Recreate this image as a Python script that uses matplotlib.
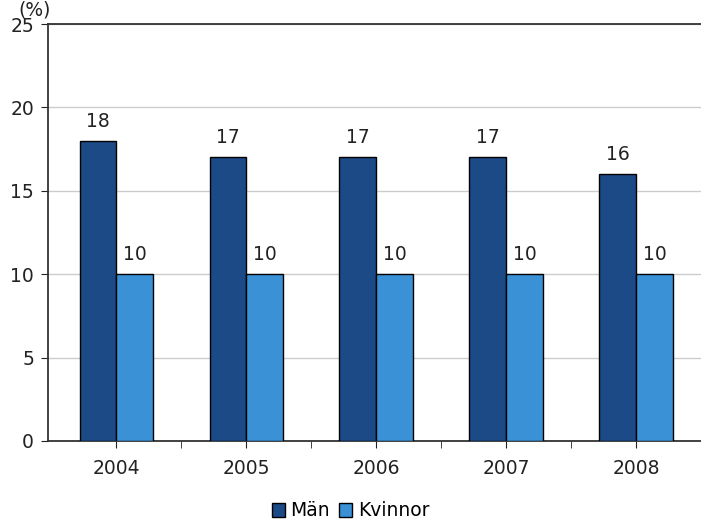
import matplotlib.pyplot as plt
import numpy as np

plt.rcParams['font.family'] = ['DejaVu Sans']

years = ["2004", "2005", "2006", "2007", "2008"]
man = [18, 17, 17, 17, 16]
kvinnor = [10, 10, 10, 10, 10]

dark = "#1B4A87"
light = "#3A91D6"
fs = 13.5

fig = plt.figure(figsize=(7.01, 5.21), dpi=100)
ax = fig.add_axes([48 / 701, 1 - 441 / 521, 653 / 701, 417 / 521])

x = np.arange(len(years))
w = 0.283
b1 = ax.bar(x - w / 2, man, w, color=dark, edgecolor="black", linewidth=1, label="Män", zorder=3)
b2 = ax.bar(x + w / 2, kvinnor, w, color=light, edgecolor="black", linewidth=1, label="Kvinnor", zorder=3)

for bars in (b1, b2):
    for r in bars:
        ax.text(r.get_x() + r.get_width() / 2, r.get_height() + 0.6, f"{int(r.get_height())}",
                ha="center", va="bottom", fontsize=fs, color="#222222")

ax.set_xlim(-0.527, 4.458)
ax.set_ylim(0, 25)
ax.set_yticks(range(0, 26, 5))
ax.set_xticks(x)
ax.set_xticks(x + 0.5, minor=True)
ax.set_xticklabels(years)
ax.tick_params(axis="both", which="both", labelsize=fs, colors="#222222", length=5)
ax.tick_params(axis="x", pad=8)
ax.tick_params(axis="y", pad=5)
ax.yaxis.grid(True, color="#cccccc", linewidth=1, zorder=0)
ax.set_axisbelow(True)
ax.spines["right"].set_visible(False)
for s in ["top", "left", "bottom"]:
    ax.spines[s].set_color("#333333")
    ax.spines[s].set_linewidth(1.3)

fig.text(35 / 701, 1.0, "(%)", ha="center", va="top", fontsize=fs, color="#222222")

fig.legend(handles=[b1, b2], labels=["Män", "Kvinnor"], loc="center", bbox_to_anchor=(0.5, 1 - 511 / 521),
           ncol=2, frameon=False, fontsize=fs, handlelength=0.7, handleheight=0.7,
           handletextpad=0.3, columnspacing=0.5)

fig.savefig("out.png", dpi=100)
